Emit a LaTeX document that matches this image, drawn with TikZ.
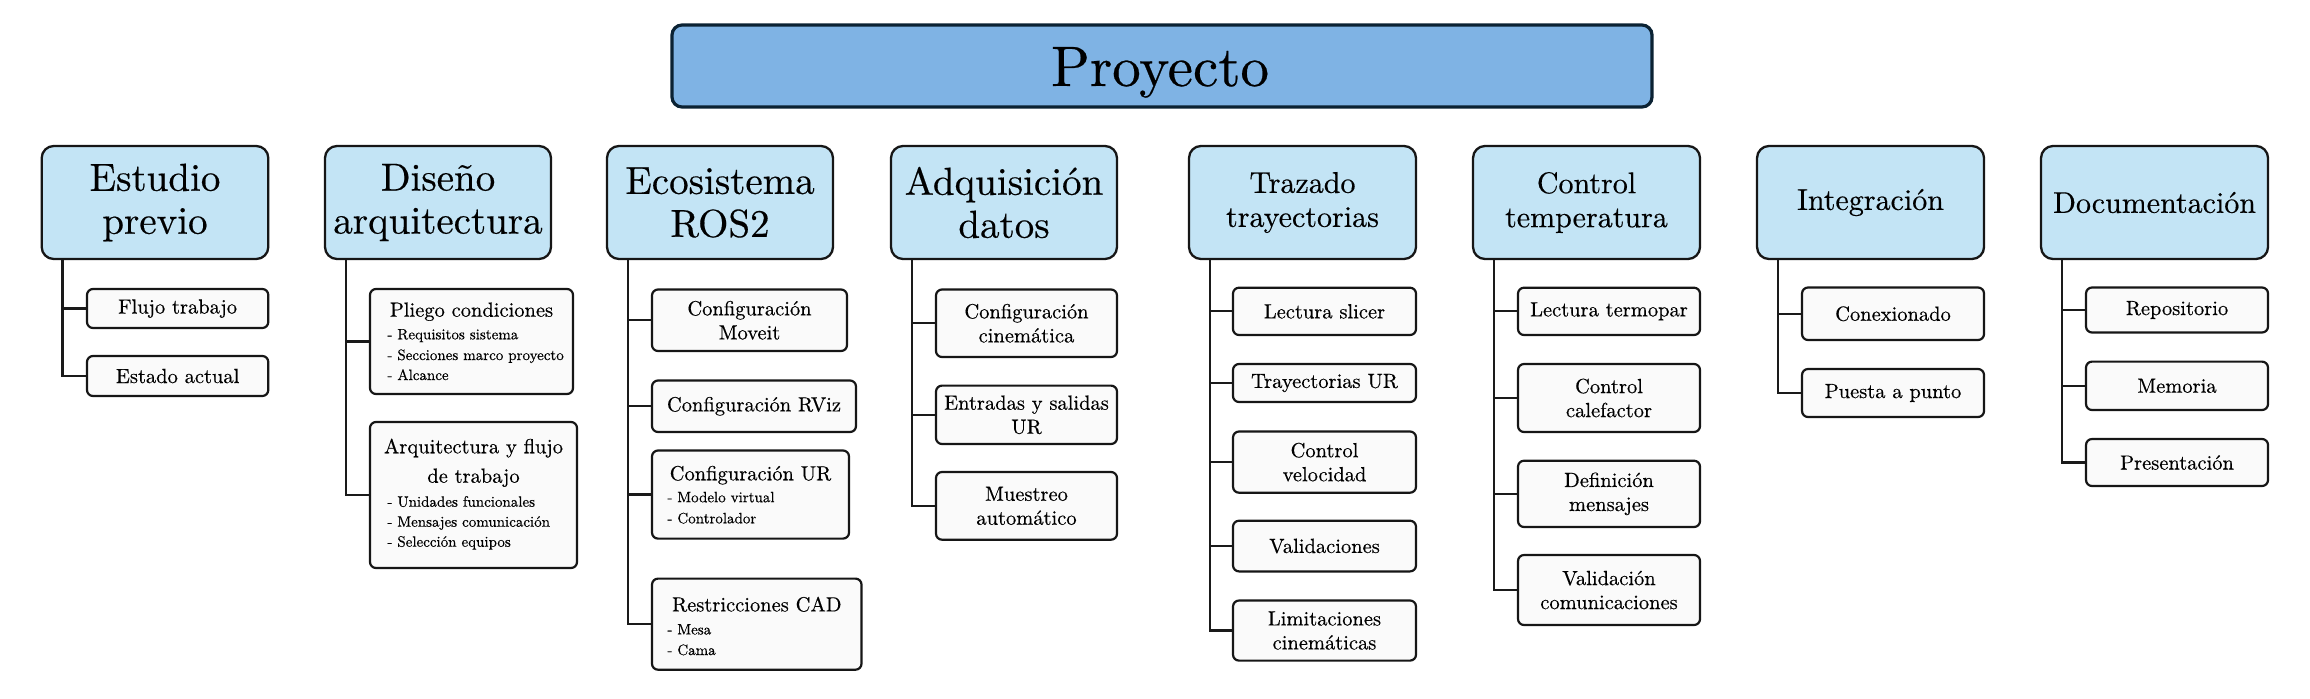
\documentclass[tikz,border=0pt]{standalone}
\usepackage{fontspec}
\setmainfont{lmroman10-regular.otf}[FakeBold=0.4]
\definecolor{projfill}{HTML}{7FB3E4}
\definecolor{projborder}{HTML}{0B2233}
\definecolor{catfill}{HTML}{C3E4F5}
\definecolor{boxborder}{HTML}{161616}
\definecolor{leaffill}{HTML}{FAFAFA}
\definecolor{linkcol}{HTML}{1A1A1A}
\newcommand\mkbox[7]{\node[#1, minimum width={(#5-#3)*0.5pt}, minimum height={(#6-#4)*0.5pt}] (#2) at ({(#3+#5)/2},{(#4+#6)/2}) {#7};}
\newcommand\lnk[2]{\draw[link] ([xshift=11pt]#1.south west) |- (#2.west);}
\begin{document}
\begin{tikzpicture}[x=0.5pt,y=-0.5pt,
  proj/.style={draw=projborder, line width=1.6pt, fill=projfill, rounded corners=5pt, inner sep=0pt},
  cat/.style={draw=boxborder, line width=1.15pt, fill=catfill, rounded corners=6pt, inner sep=0pt, align=center, font=\fontsize{19.5}{21.5}\selectfont},
  catR/.style={cat, font=\fontsize{15}{17}\selectfont},
  leaf/.style={draw=boxborder, line width=1.1pt, fill=leaffill, rounded corners=3pt, inner sep=0pt, align=center, font=\fontsize{10.25}{12}\selectfont},
  link/.style={draw=linkcol, line width=1.1pt},
  ttl/.style={inner sep=0pt, anchor=base, font=\fontsize{10.25}{12}\selectfont},
  bul/.style={inner sep=0pt, anchor=base west, font=\fontsize{7.5}{9}\selectfont},
  big/.style={inner sep=0pt, anchor=base, font=\fontsize{28.5}{30}\selectfont}
]
\useasboundingbox (0,0) rectangle (2310,698);
% Root
\mkbox{proj}{proy}{672}{25}{1652}{107}{}
\node[big] (proy-t) at (1160,86) {Proyecto};
% Categories
\mkbox{cat}{c1}{41.7}{146}{268.3}{259}{Estudio\\previo}
\mkbox{cat}{c2}{325}{146}{551}{259}{Diseño\\arquitectura}
\mkbox{cat}{c3}{607}{146}{833}{259}{Ecosistema\\ROS2}
\mkbox{cat}{c4}{891}{146}{1117}{259}{Adquisición\\datos}
\mkbox{catR}{c5}{1189}{146}{1416}{259}{Trazado\\trayectorias}
\mkbox{catR}{c6}{1473}{146}{1700}{259}{Control\\temperatura}
\mkbox{catR}{c7}{1757}{146}{1984}{259}{Integración}
\mkbox{catR}{c8}{2041}{146}{2268}{259}{Documentación}
% Estudio previo
\mkbox{leaf}{l11}{87}{289}{268.3}{328}{Flujo trabajo}
\mkbox{leaf}{l12}{87}{356}{268.3}{396}{Estado actual}
% Diseno arquitectura
\mkbox{leaf}{l21}{370}{289}{573}{394}{}
\node[ttl] (l21-t) at (471.5,316.7) {Pliego condiciones};
\node[bul] (l21-a) at (387,339.3) {- Requisitos sistema};
\node[bul] (l21-b) at (387,360) {- Secciones marco proyecto};
\node[bul] (l21-c) at (387,380) {- Alcance};
\mkbox{leaf}{l22}{370}{422}{577}{568}{}
\node[ttl] (l22-t) at (473.5,453.3) {Arquitectura y flujo};
\node[ttl] (l22-u) at (473.5,482.7) {de trabajo};
\node[bul] (l22-a) at (387,506.7) {- Unidades funcionales};
\node[bul] (l22-b) at (387,526.7) {- Mensajes comunicación};
\node[bul] (l22-c) at (387,546.7) {- Selección equipos};
% Ecosistema ROS2
\mkbox{leaf}{l31}{652}{289.5}{847}{351}{Configuración\\Moveit}
\mkbox{leaf}{l32}{652}{380.5}{856}{432}{Configuración RViz}
\mkbox{leaf}{l33}{652}{450.5}{849}{538.6}{}
\node[ttl] (l33-t) at (750.5,480.3) {Configuración UR};
\node[bul] (l33-a) at (667,502.2) {- Modelo virtual};
\node[bul] (l33-b) at (667,523.3) {- Controlador};
\mkbox{leaf}{l34}{652}{578.6}{861.5}{669.7}{}
\node[ttl] (l34-t) at (756.8,611.4) {Restricciones CAD};
\node[bul] (l34-a) at (667,634.4) {- Mesa};
\node[bul] (l34-b) at (667,655) {- Cama};
% Adquisicion datos
\mkbox{leaf}{l41}{936}{289.5}{1117}{357}{Configuración\\cinemática}
\mkbox{leaf}{l42}{936}{385.6}{1117}{444}{Entradas y salidas\\UR}
\mkbox{leaf}{l43}{936}{472}{1117}{539.7}{Muestreo\\automático}
% Trazado trayectorias
\mkbox{leaf}{l51}{1233}{287.7}{1416}{335}{Lectura slicer}
\mkbox{leaf}{l52}{1233}{364}{1416}{402}{Trayectorias UR}
\mkbox{leaf}{l53}{1233}{431.5}{1416}{492.7}{Control\\velocidad}
\mkbox{leaf}{l54}{1233}{520.7}{1416}{571.4}{Validaciones}
\mkbox{leaf}{l55}{1233}{600.5}{1416}{660.6}{Limitaciones\\cinemáticas}
% Control temperatura
\mkbox{leaf}{l61}{1518}{287.7}{1700}{335}{Lectura termopar}
\mkbox{leaf}{l62}{1518}{364}{1700}{432}{Control\\calefactor}
\mkbox{leaf}{l63}{1518}{460.7}{1700}{527}{Definición\\mensajes}
\mkbox{leaf}{l64}{1518}{555}{1700}{625}{Validación\\comunicaciones}
% Integracion
\mkbox{leaf}{l71}{1802}{287.5}{1984}{340}{Conexionado}
\mkbox{leaf}{l72}{1802}{369}{1984}{417}{Puesta a punto}
% Documentacion
\mkbox{leaf}{l81}{2086}{287.5}{2268}{332.5}{Repositorio}
\mkbox{leaf}{l82}{2086}{361.6}{2268}{410}{Memoria}
\mkbox{leaf}{l83}{2086}{439}{2268}{486}{Presentación}
% Connectors
\lnk{c1}{l11}\lnk{c1}{l12}
\lnk{c2}{l21}\lnk{c2}{l22}
\lnk{c3}{l31}\lnk{c3}{l32}\lnk{c3}{l33}\lnk{c3}{l34}
\lnk{c4}{l41}\lnk{c4}{l42}\lnk{c4}{l43}
\lnk{c5}{l51}\lnk{c5}{l52}\lnk{c5}{l53}\lnk{c5}{l54}\lnk{c5}{l55}
\lnk{c6}{l61}\lnk{c6}{l62}\lnk{c6}{l63}\lnk{c6}{l64}
\lnk{c7}{l71}\lnk{c7}{l72}
\lnk{c8}{l81}\lnk{c8}{l82}\lnk{c8}{l83}
\end{tikzpicture}
\end{document}
